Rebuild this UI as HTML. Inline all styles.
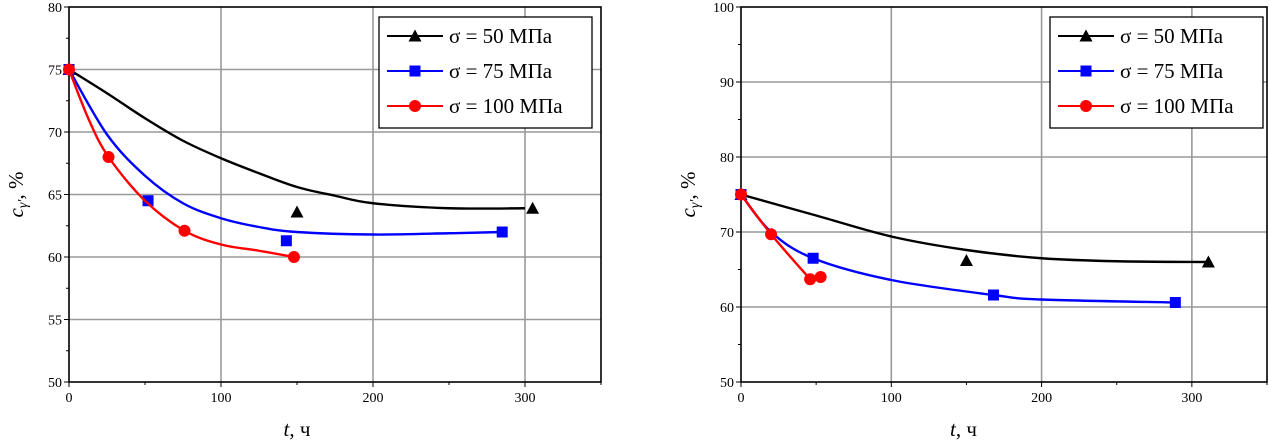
<!DOCTYPE html>
<html><head><meta charset="utf-8"><style>
body{margin:0;background:#fff;}
svg{display:block;font-family:"Liberation Serif",serif;}
</style></head><body>
<svg id="s" width="1269" height="441"></svg>
<script>
// ---- data ----
const xTicks=[0,100,200,300];
const yTicksL=[50,55,60,65,70,75,80];
const yTicksR=[50,60,70,80,90,100];
const seriesNames=["σ = 50 МПа","σ = 75 МПа","σ = 100 МПа"];
// left chart points
const L50x=[0,150,305], L50y=[75,63.6,63.9];
const L75x=[0,52,143,285], L75y=[75,64.5,61.3,62];
const L100x=[0,26,76,148], L100y=[75,68,62.1,60];
// left fit curves
const L50cx=[0,25,50,75,100,125,150,175,200,250,300], L50cy=[75,73.1,71.1,69.3,67.9,66.7,65.6,64.9,64.3,63.9,63.9];
const L75cx=[0,25,50,75,100,125,150,200,250,285], L75cy=[75,69.8,66.5,64.3,63.1,62.4,62.0,61.8,61.9,62];
const L100cx=[0,13,26,50,76,100,125,148], L100cy=[75,71,68,64.5,62.1,61.0,60.5,60];
// right chart points
const R50x=[0,150,311], R50y=[75,66.2,66];
const R75x=[0,48,168,289], R75y=[75,66.5,61.6,60.6];
const R100x=[0,20,46,53], R100y=[75,69.7,63.7,64];
// right fit curves
const R50cx=[0,50,100,150,200,250,311], R50cy=[75,72.2,69.4,67.6,66.5,66.1,66];
const R75cx=[0,20,48,100,168,200,289], R75cy=[75,70,66.5,63.6,61.6,61.0,60.6];
const R100cx=[0,20,46], R100cy=[75,69.7,63.7];

const NS="http://www.w3.org/2000/svg";
const svg=document.getElementById('s');
function el(t,a,p){const e=document.createElementNS(NS,t);for(const k in a)e.setAttribute(k,a[k]);(p||svg).appendChild(e);return e;}
const colors=["#000","#0000ff","#ff0000"];

function path(xs,ys,X,Y){
  const P=xs.map((x,i)=>[X(x),Y(ys[i])]);
  let d="M"+P[0][0]+","+P[0][1];
  for(let i=0;i<P.length-1;i++){
    const p0=P[i-1]||P[i],p1=P[i],p2=P[i+1],p3=P[i+2]||P[i+1];
    const c1=[p1[0]+(p2[0]-p0[0])/6,p1[1]+(p2[1]-p0[1])/6];
    const c2=[p2[0]-(p3[0]-p1[0])/6,p2[1]-(p3[1]-p1[1])/6];
    d+=`C${c1[0]},${c1[1]} ${c2[0]},${c2[1]} ${p2[0]},${p2[1]}`;
  }
  return d;
}
function marker(g,k,x,y){
  let m;
  if(k==0)m=el('polygon',{points:`${x},${y-6.5} ${x-6.5},${y+5.5} ${x+6.5},${y+5.5}`,fill:colors[0]},g);
  else if(k==1)m=el('rect',{x:x-5.5,y:y-5.5,width:11,height:11,fill:colors[1]},g);
  else m=el('circle',{cx:x,cy:y,r:6,fill:colors[2]},g);
  
  
}

function chart(name,x0,x1,ymin,ymax,yTicks,yMinorStep,pts,curves,legX){
  const top=7,bot=382;
  const X=v=>x0+(v/350)*(x1-x0);
  const Y=v=>bot-(v-ymin)/(ymax-ymin)*(bot-top);
  const g=el('g',{});
  
  
  const gg=el('g',{},g);
  
  
  xTicks.forEach(v=>{if(v>0)el('line',{x1:X(v),x2:X(v),y1:top,y2:bot,stroke:'#999','stroke-width':1.6},gg);});
  yTicks.forEach(v=>{if(v>ymin&&v<ymax)el('line',{x1:x0,x2:x1,y1:Y(v),y2:Y(v),stroke:'#999','stroke-width':1.6},gg);});
  el('rect',{x:x0,y:top,width:x1-x0,height:bot-top,fill:'none',stroke:'#000','stroke-width':1.6},g);
  const xa=el('g',{},g);
  
  
  for(let v=0;v<=350;v+=50){el('line',{x1:X(v),x2:X(v),y1:bot,y2:bot+(v%100?3:5),stroke:'#000'},xa);}
  xTicks.forEach(v=>{const t=el('text',{x:X(v),y:bot+20,'font-size':14,'text-anchor':'middle'},xa);t.textContent=v;});
  const ya=el('g',{},g);
  
  
  for(let v=ymin;v<=ymax;v+=yMinorStep){el('line',{x1:x0,x2:x0-3,y1:Y(v),y2:Y(v),stroke:'#000'},ya);}
  yTicks.forEach(v=>{el('line',{x1:x0,x2:x0-5,y1:Y(v),y2:Y(v),stroke:'#000'},ya);const t=el('text',{x:x0-7,y:Y(v)+5,'font-size':14,'text-anchor':'end'},ya);t.textContent=v;});
  const xt=el('text',{x:(x0+X(300))/2+ (x0>700?-3:0),y:436,'font-size':21,'text-anchor':'middle'},g);
  
  
  xt.innerHTML='<tspan font-style="italic">t</tspan>, ч';
  const yt=el('text',{transform:`translate(${x0-46},${(top+bot)/2}) rotate(-90)`,'font-size':21,'text-anchor':'middle'},g);
  
  
  yt.innerHTML='<tspan font-style="italic">c</tspan><tspan font-style="italic" font-size="14" dy="4">γ′</tspan><tspan dy="-4">,  %</tspan>';
  for(let k=0;k<3;k++){
    const sg=el('g',{},g);
    
    
    const c=curves[k];
    el('path',{d:path(c[0],c[1],X,Y),fill:'none',stroke:colors[k],'stroke-width':2.4},sg);
    pts[k][0].forEach((x,i)=>marker(sg,k,X(x),Y(pts[k][1][i])));
  }
  const lg=el('g',{},g);
  
  
  el('rect',{x:legX,y:17,width:213,height:111,fill:'#fff',stroke:'#000','stroke-width':1.3},lg);
  for(let k=0;k<3;k++){
    const yy=36+k*35;
    el('line',{x1:legX+8,x2:legX+64,y1:yy,y2:yy,stroke:colors[k],'stroke-width':2},lg);
    marker(lg,k,legX+36,yy);
    const t=el('text',{x:legX+70,y:yy+7,'font-size':21},lg);
    
    
    t.textContent=seriesNames[k];
  }
}
chart('left-chart',69,601,50,80,yTicksL,2.5,
  [[L50x,L50y],[L75x,L75y],[L100x,L100y]],
  [[L50cx,L50cy],[L75cx,L75cy],[L100cx,L100cy]],379);
chart('right-chart',741,1267,50,100,yTicksR,5,
  [[R50x,R50y],[R75x,R75y],[R100x,R100y]],
  [[R50cx,R50cy],[R75cx,R75cy],[R100cx,R100cy]],1050);
</script>
</body></html>
